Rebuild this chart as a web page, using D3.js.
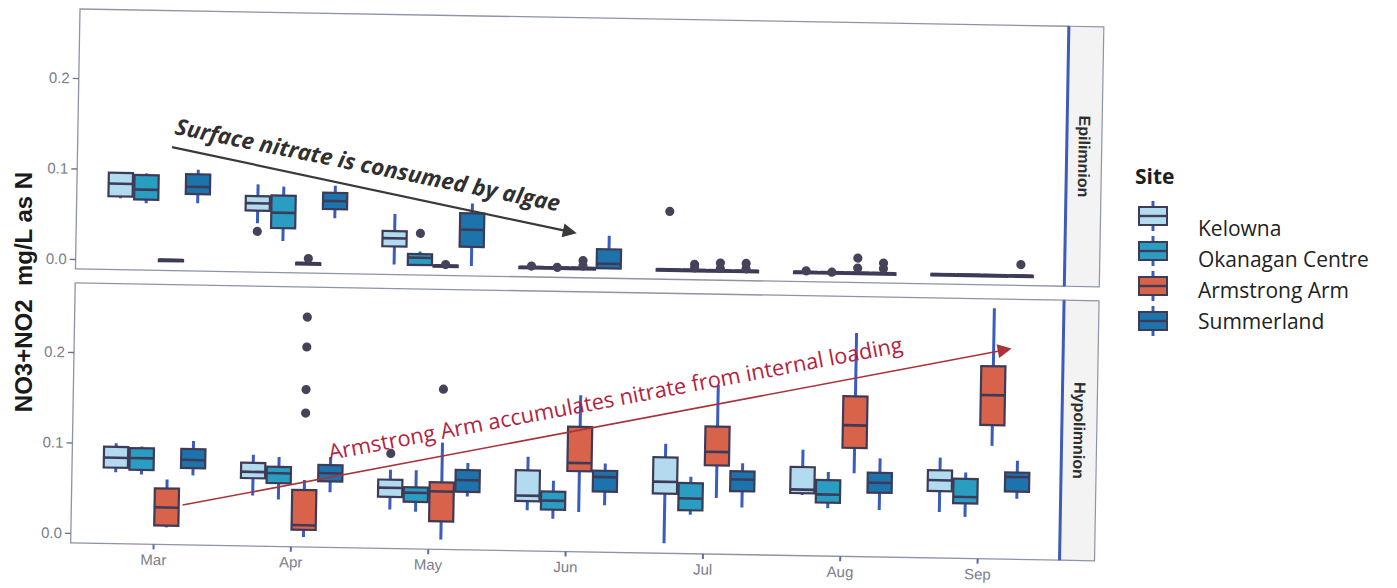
<!DOCTYPE html>
<html><head><meta charset="utf-8">
<script src="https://cdn.jsdelivr.net/npm/d3@7"></script>
<style>body{margin:0;background:#fff}svg{display:block}</style>
</head><body>
<svg id="chart" width="1397" height="588"></svg>
<script>
// ---------------- DATA ----------------
const months = ["Mar","Apr","May","Jun","Jul","Aug","Sep"];
const sites = ["Kelowna","Okanagan Centre","Armstrong Arm","Summerland"];
const layers = ["Epilimnion","Hypolimnion"];
const yTicks = [0.0, 0.1, 0.2];

// five-number summaries [min, q1, median, q3, max] per month
const epiKelowna   = [[0.068,0.070,0.084,0.096,0.097],[0.043,0.057,0.065,0.073,0.086],[0.000,0.020,0.029,0.037,0.056],[0,0,0,0,0],[0,0,0,0,0],[0,0,0,0,0],[0,0,0,0,0]];
const epiOkanagan  = [[0.063,0.067,0.078,0.094,0.096],[0.024,0.038,0.055,0.074,0.084],[0.000,0.000,0.008,0.012,0.015],[0,0,0,0,0],[0,0,0,0,0],[0,0,0,0,0],[0,0,0,0,0]];
const epiArmstrong = [[0.001,0.001,0.001,0.001,0.001],[0,0,0,0,0],[0,0,0,0,0],[0,0,0,0,0],[0,0,0,0,0],[0,0,0,0,0],[0,0,0,0,0]];
const epiSummerland= [[0.064,0.074,0.082,0.096,0.101],[0.050,0.060,0.069,0.078,0.086],[0.000,0.021,0.040,0.058,0.069],[0.000,0.000,0.005,0.021,0.036],[0,0,0,0,0],[0,0,0,0,0],[0,0,0,0,0]];
// outliers: [monthIndex, siteIndex, value]
const epiOutliers = [[1,0,0.034],[1,2,0.005],[2,1,0.035],[2,2,0.001],[3,0,0.001],[3,1,0.000],[3,2,0.002],[3,2,0.008],
  [4,0,0.064],[4,1,0.002],[4,1,0.006],[4,2,0.002],[4,2,0.008],[4,3,0.002],[4,3,0.008],
  [5,0,0.001],[5,1,0.000],[5,2,0.005],[5,2,0.016],[5,3,0.005],[5,3,0.011],[6,3,0.012]];

const hypKelowna   = [[0.068,0.073,0.084,0.096,0.100],[0.045,0.064,0.071,0.081,0.090],[0.032,0.046,0.056,0.065,0.076],[0.034,0.044,0.050,0.078,0.093],[0.000,0.055,0.068,0.095,0.110],[0.056,0.058,0.062,0.087,0.106],[0.040,0.063,0.075,0.086,0.100]];
const hypOkanagan  = [[0.066,0.071,0.084,0.095,0.097],[0.041,0.059,0.070,0.077,0.088],[0.030,0.041,0.051,0.057,0.076],[0.025,0.035,0.045,0.055,0.067],[0.032,0.037,0.050,0.067,0.074],[0.042,0.048,0.057,0.073,0.082],[0.035,0.050,0.057,0.077,0.084]];
const hypArmstrong = [[0.008,0.010,0.030,0.051,0.061],[0.000,0.008,0.013,0.052,0.063],[0.000,0.020,0.053,0.063,0.107],[0.033,0.078,0.087,0.127,0.162],[0.051,0.087,0.102,0.130,0.176],[0.081,0.109,0.134,0.166,0.236],[0.114,0.137,0.170,0.202,0.266]];
const hypSummerland= [[0.066,0.074,0.083,0.095,0.104],[0.050,0.062,0.071,0.080,0.089],[0.048,0.053,0.066,0.077,0.085],[0.041,0.056,0.072,0.079,0.087],[0.041,0.059,0.072,0.081,0.090],[0.041,0.060,0.071,0.082,0.098],[0.056,0.064,0.080,0.085,0.098]];
const hypOutliers = [[1,2,0.137],[1,2,0.163],[1,2,0.210],[1,2,0.243],[2,0,0.094],[2,2,0.166]];

// annotations: [monthIndex position, value] pairs
const epiArrow = [[0.087,0.1255],[3.05,0.038]];
const epiNote = "Surface nitrate is consumed by algae";
const epiNoteAt = [0.10,0.140];
const hypArrow = [[0.21,0.033],[6.23,0.222]];
const hypNote = "Armstrong Arm accumulates nitrate from internal loading";
const hypNoteAt = [1.277,0.0855];

// ---------------- STYLE ----------------
const fills = ["#b3dbef","#2a9dc2","#d9624a","#1d74ad"];
const boxStroke = "#3d3b58", whiskerCol = "#3a5cbf", outCol = "#46425a";
const W = 989, PH = 260, gap = 14;

const svg = d3.select("#chart");
const root = svg.append("g").attr("transform","rotate(1,80,9) translate(80,9)");

const x = d3.scalePoint().domain(months).range([0,W]).padding(0.6);
const step = x.step();
const xi = i => x(months[0]) + i*step;
const y = d3.scaleLinear().domain([-0.011,0.2763]).range([PH,0]);
const dodge = step*0.1875, bw = step*0.176;

const stats = {
  Epilimnion:[epiKelowna,epiOkanagan,epiArmstrong,epiSummerland],
  Hypolimnion:[hypKelowna,hypOkanagan,hypArmstrong,hypSummerland]
};
const outs = {Epilimnion:epiOutliers, Hypolimnion:hypOutliers};

const defs = svg.append("defs");
function marker(id,col){
  defs.append("marker").attr("id",id).attr("viewBox","0 0 10 10").attr("refX",2).attr("refY",5)
    .attr("markerWidth",16).attr("markerHeight",14).attr("markerUnits","userSpaceOnUse").attr("orient","auto")
    .append("path").attr("d","M0,0 L10,5 L0,10 z").attr("fill",col);
}
marker("ah1","#3a3a3a"); marker("ah2","#a8343a");

layers.forEach((layer,li)=>{
  const p = root.append("g").attr("transform",`translate(0,${li*(PH+gap)})`);
  p.append("rect").attr("width",W).attr("height",PH).attr("fill","#fff").attr("stroke","#8e93a6").attr("stroke-width",1.3);
  // left axis
  const ax = p.append("g").call(d3.axisLeft(y).tickValues(yTicks).tickFormat(d3.format(".1f")).tickSize(6).tickPadding(3));
  ax.select(".domain").remove();
  ax.selectAll("line").attr("stroke","#6d7080").attr("stroke-width",1.3);
  ax.selectAll("text").attr("fill","#7a7d8c").style("font","15px 'Liberation Sans', Arial, sans-serif");
  // strip
  p.append("rect").attr("x",W).attr("width",35).attr("height",PH).attr("fill","#f3f3f3").attr("stroke","#8e93a6").attr("stroke-width",1.2);
  p.append("line").attr("x1",W).attr("x2",W).attr("y1",0).attr("y2",PH).attr("stroke","#3d5bb8").attr("stroke-width",3);
  p.append("text").attr("transform",`translate(${W+17.5},${PH/2}) rotate(90)`).attr("text-anchor","middle").attr("dy","0.35em")
    .attr("fill","#2e2e2e").style("font","bold 16px 'Liberation Sans', Arial, sans-serif").text(layer);

  stats[layer].forEach((arr,si)=>{
    arr.forEach((s,mi)=>{
      const cx = x(months[mi]) + (si-1.5)*dodge;
      const g = p.append("g");
      g.append("line").attr("x1",cx).attr("x2",cx).attr("y1",y(s[0])).attr("y2",y(s[4]))
        .attr("stroke",whiskerCol).attr("stroke-width",3);
      const top = y(s[3]), h = Math.max(y(s[1])-y(s[3]),1.5);
      g.append("rect").attr("x",cx-bw/2).attr("y",top).attr("width",bw).attr("height",h)
        .attr("fill",fills[si]).attr("stroke",boxStroke).attr("stroke-width",2.2);
      g.append("line").attr("x1",cx-bw/2).attr("x2",cx+bw/2).attr("y1",y(s[2])).attr("y2",y(s[2]))
        .attr("stroke",boxStroke).attr("stroke-width",2.6);
    });
  });
  outs[layer].forEach(o=>{
    p.append("circle").attr("cx",x(months[o[0]])+(o[1]-1.5)*dodge).attr("cy",y(o[2])).attr("r",4.6).attr("fill",outCol);
  });

  if(li===1){
    const bx = p.append("g").attr("transform",`translate(0,${PH})`).call(d3.axisBottom(x).tickSize(5).tickPadding(5));
    bx.select(".domain").remove();
    bx.selectAll("line").attr("stroke","#5a6ab0").attr("stroke-width",2);
    bx.selectAll("text").attr("fill","#7a7d8c").style("font","15px 'Liberation Sans', Arial, sans-serif");
  }

  // annotations
  const arr = li===0 ? epiArrow : hypArrow;
  const x1 = xi(arr[0][0]), y1 = y(arr[0][1]), x2 = xi(arr[1][0]), y2 = y(arr[1][1]);
  const ang = Math.atan2(y2-y1,x2-x1)*180/Math.PI;
  const len = Math.hypot(x2-x1,y2-y1);
  const shorten = 12;
  p.append("line").attr("x1",x1).attr("y1",y1)
    .attr("x2",x2-(x2-x1)/len*shorten).attr("y2",y2-(y2-y1)/len*shorten)
    .attr("stroke",li===0?"#3a3a3a":"#a8343a").attr("stroke-width",li===0?2.2:1.6)
    .attr("marker-end",`url(#${li===0?"ah1":"ah2"})`);
  const at = li===0 ? epiNoteAt : hypNoteAt;
  p.append("text").attr("transform",`translate(${xi(at[0])},${y(at[1])}) rotate(${li===0?ang-0.6:ang})`)
    .attr("fill",li===0?"#303030":"#b3233f")
    .style("font", li===0 ? "italic 700 22.5px 'Open Sans', sans-serif" : "400 21.8px 'Open Sans', sans-serif")
    .text(li===0?epiNote:hypNote);
});

// y-axis title
svg.append("text").attr("transform","translate(32,292) rotate(-90)").attr("text-anchor","middle")
  .attr("fill","#1a1a1a").style("font","bold 24px 'Liberation Sans', Arial, sans-serif")
  .style("white-space","pre").text("NO3+NO2  mg/L as N");

// legend
const lg = svg.append("g");
lg.append("text").attr("x",1135).attr("y",184).attr("fill","#1e1e1e")
  .style("font","700 21px 'Open Sans', sans-serif").text("Site");
const keyY = d3.scalePoint().domain(sites).range([216,321]);
const labY = d3.scalePoint().domain(sites).range([236,329]);
sites.forEach((s,i)=>{
  const cy = keyY(s), cx = 1153;
  lg.append("line").attr("x1",cx).attr("x2",cx).attr("y1",cy-15).attr("y2",cy+15).attr("stroke",whiskerCol).attr("stroke-width",3);
  lg.append("rect").attr("x",cx-14).attr("y",cy-9).attr("width",28).attr("height",18).attr("fill",fills[i]).attr("stroke",boxStroke).attr("stroke-width",2);
  lg.append("line").attr("x1",cx-14).attr("x2",cx+14).attr("y1",cy).attr("y2",cy).attr("stroke",boxStroke).attr("stroke-width",2.4);
  lg.append("text").attr("x",1198).attr("y",labY(s)).attr("fill","#222").style("font","21px 'Open Sans', sans-serif").text(s);
});
</script>
</body></html>
